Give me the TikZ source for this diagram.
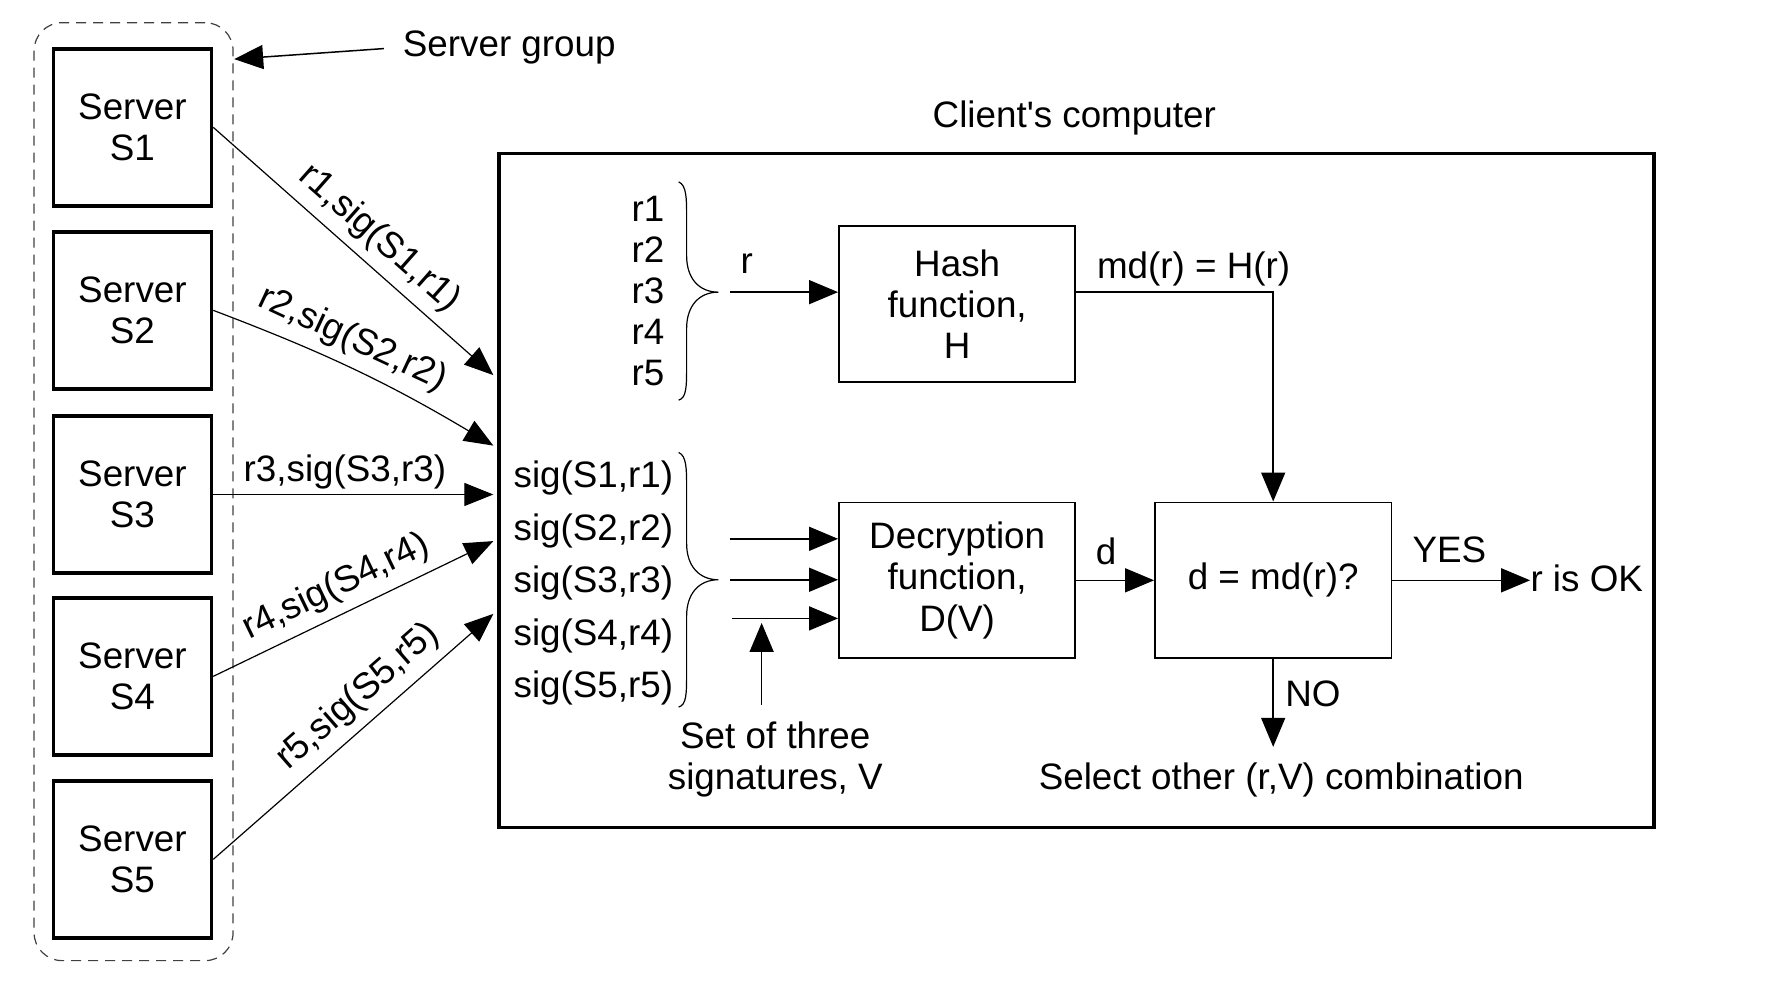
\documentclass[tikz,border=0pt]{standalone}
\usepackage{fontspec}
\setmainfont{Liberation Sans}[Ligatures=TeXOff]
\usetikzlibrary{arrows.meta,calc}
\newcommand\basefs{\fontsize{18.4pt}{20.6pt}\selectfont}
\newcommand\sigfs{\fontsize{18.4pt}{26.3pt}\selectfont}
\begin{document}
\begin{tikzpicture}[x=0.5684pt,y=-0.5684pt,font=\basefs,
  server/.style={draw,line width=1.8pt,minimum width=79pt,minimum height=78.4pt,align=center,inner sep=0pt},
  fnbox/.style={draw,line width=0.9pt,minimum width=118.2pt,minimum height=77.9pt,align=center,inner sep=0pt},
  arr/.style={line width=0.75pt,-{Triangle[length=14.5pt,width=12pt]}},
  sarr/.style={line width=0.6pt,-{Triangle[length=14.5pt,width=11.5pt]}},
  lbl/.style={inner sep=2.5pt},
  slbl/.style={sloped,above,inner sep=4.5pt},
  brc/.style={line width=0.6pt}]
\useasboundingbox (0,0) rectangle (1567.6,870.9);

% servers
\node[server] (s1) at (116.5,112) {Server\\S1};
\node[server] (s2) at (116.5,273) {Server\\S2};
\node[server] (s3) at (116.5,435) {Server\\S3};
\node[server] (s4) at (116.5,595) {Server\\S4};
\node[server] (s5) at (116.5,756) {Server\\S5};
\node[draw=black!75,dash pattern=on 5pt off 3.5pt,rounded corners=14pt,line width=0.6pt,
      minimum width=99.5pt,minimum height=469pt,inner sep=0pt] (grp) at (117.5,432.5) {};

\node (sg) at (448,42) {Server group};
\coordinate (gtip) at (206,52);
\draw[arr,shorten <=6pt] (sg.west) -- (gtip);

% client box
\node (cclbl) at (945,104) {Client's computer};
\node[draw,line width=1.8pt,minimum width=577.5pt,minimum height=337.1pt,inner sep=0pt] (client) at (947,431.5) {};

% server arrows
\coordinate (e1) at (434,330);
\coordinate (e2) at (434,392);
\coordinate (e3) at (434,435);
\coordinate (e4) at (434,476);
\coordinate (e5) at (434,540);
\draw[sarr] (s1.east) -- node[slbl,pos=0.53] {r1,sig(S1,r1)} (e1);
\draw[sarr] (s2.east) to[bend left=5] node[slbl,pos=0.44] {r2,sig(S2,r2)} (e2);
\draw[sarr] (s3.east) -- node[above,lbl,pos=0.47] {r3,sig(S3,r3)} (e3);
\draw[sarr] (s4.east) -- node[slbl,pos=0.48] {r4,sig(S4,r4)} (e4);
\draw[sarr] (s5.east) -- node[slbl,pos=0.58] {r5,sig(S5,r5)} (e5);

% r list and brace
\node[align=center] (rl) at (570,256) {r1\\r2\\r3\\r4\\r5};
\draw[brc] (597,160) .. controls (604,163) and (604,175) .. (604,190) -- (604,225)
  .. controls (604,245) and (615,257) .. (632,257)
  .. controls (615,257) and (604,269) .. (604,289) -- (604,322)
  .. controls (604,340) and (604,350) .. (597,352);

% sig list and brace
\node[align=center,font=\sigfs] (sl) at (522,513) {sig(S1,r1)\\sig(S2,r2)\\sig(S3,r3)\\sig(S4,r4)\\sig(S5,r5)};
\draw[brc] (597,398) .. controls (604,401) and (604,413) .. (604,428) -- (604,478)
  .. controls (604,498) and (615,510) .. (632,510)
  .. controls (615,510) and (604,522) .. (604,542) -- (604,592)
  .. controls (604,610) and (604,620) .. (597,622);

% function boxes
\node[fnbox] (hash) at (842,267.5) {Hash\\function,\\H};
\node[fnbox] (dec) at (842,510.5) {Decryption\\function,\\D(V)};
\node[fnbox] (cmp) at (1120,510.5) {d = md(r)?};

% r -> hash
\coordinate (rs) at (642,257);
\draw[arr] (rs) -- (rs -| hash.west);
\node (rlbl) at (657,232) {r};

% hash -> compare
\draw[arr] (rs -| hash.east) -| (cmp.north);
\node (mdlbl) at (1050,237) {md(r) = H(r)};

% sigs -> dec
\coordinate (d1) at (642,474);
\coordinate (d2) at (642,510);
\coordinate (d3) at (644,544);
\draw[arr] (d1) -- (d1 -| dec.west);
\draw[arr] (d2) -- (d2 -| dec.west);
\draw[arr] (d3) -- (d3 -| dec.west);
\coordinate (vb) at (670,620);
\coordinate (vt) at (670,548);
\draw[arr] (vb) -- (vt);
\node[align=center] (vlbl) at (682,668) {Set of three\\signatures, V};

% dec -> compare
\draw[arr] (dec) -- (cmp);
\node (dlbl) at (973,485) {d};

% YES
\node[anchor=west,inner sep=0pt] (ok) at (1346,509) {r is OK};
\draw[arr] (cmp.east) -- (cmp.east -| ok.west);
\node (yes) at (1275,484) {YES};

% NO
\node (sel) at (1127,686) {Select other (r,V) combination};
\coordinate (notip) at (1120,657);
\draw[arr] (cmp.south) -- (notip);
\node (no) at (1155,610) {NO};
\end{tikzpicture}
\end{document}
